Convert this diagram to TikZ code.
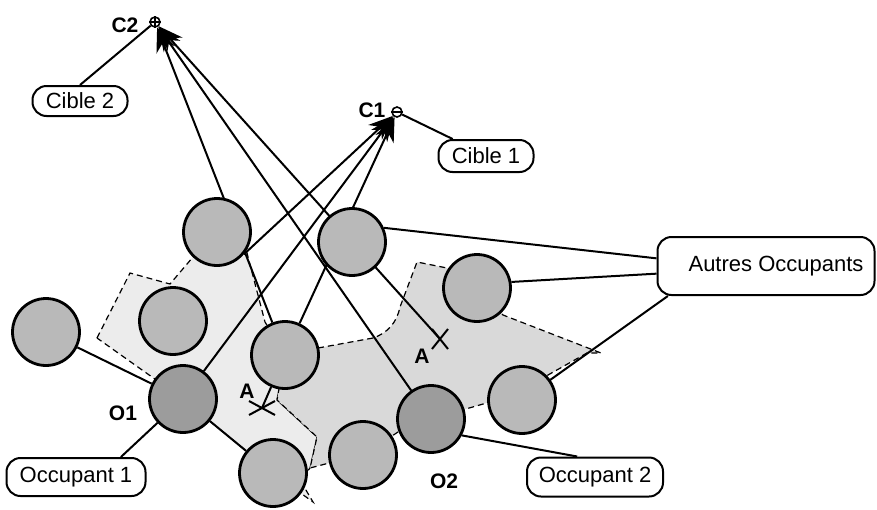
\documentclass[tikz,border=0pt]{standalone}
\usepackage{fontspec}
\setmainfont{Liberation Sans}
\usetikzlibrary{arrows.meta, shapes.misc}
\pgfdeclarelayer{shade}
\pgfdeclarelayer{wires}
\pgfsetlayers{shade,wires,main}

\begin{document}
\begin{tikzpicture}[x=0.5pt, y=-0.5pt,
        occ/.style={circle, draw, line width=1.4pt, fill=gray!55, minimum size=33.5pt, inner sep=0pt},
        occdark/.style={occ, fill=gray!78},
        tgt/.style={circle, draw, line width=0.8pt, minimum size=5pt, inner sep=0pt},
        tag/.style={draw, fill=white, line width=1pt, rounded corners=7pt, inner sep=0pt, font=\fontsize{11}{13}\selectfont},
        lbl/.style={inner sep=0pt, font=\bfseries\fontsize{10.5}{12}\selectfont},
        xmark/.style={draw, cross out, line width=1pt, inner sep=0pt},
        ray/.style={line width=1pt, -{Stealth[length=12pt, width=10pt]}},
        wire/.style={line width=1pt},
        zone/.style={draw, line width=0.6pt, densely dashed}]
    \useasboundingbox (0,0) rectangle (877,509);

    \node[occ] (ca) at (217,232) {};
    \node[occ] (cb) at (352,242) {};
    \node[occ] (cc) at (173,321) {};
    \node[occ] (cd) at (46,332) {};
    \node[occ] (ce) at (285,355) {};
    \node[occ] (cf) at (477,288) {};
    \node[occ] (cg) at (522,400) {};
    \node[occ] (ch) at (363,455) {};
    \node[occ] (ci) at (273,473) {};
    \node[occdark] (o1) at (183,399) {};
    \node[occdark] (o2) at (431,419) {};

    \node[tgt] (c2) at (155,22) {};
    \draw[line width=0.6pt] (c2.west) -- (c2.east) (c2.north) -- (c2.south);
    \node[tgt] (c1) at (397,112) {};
    \draw[line width=0.6pt] (c1.west) -- (c1.east);
    \node[lbl] (lc2) at (125,25) {C2};
    \node[lbl] (lc1) at (372,110) {C1};
    \node[lbl] (lo1) at (123,413) {O1};
    \node[lbl] (lo2) at (444,481) {O2};
    \node[lbl] (la1) at (247,391) {A};
    \node[lbl] (la2) at (422,356) {A};
    \node[xmark, minimum width=12pt, minimum height=6pt] (a1) at (262,408) {};
    \node[xmark, minimum width=7pt, minimum height=9pt] (a2) at (440,339) {};

    \node[tag, minimum width=47.5pt, minimum height=15pt] (cible2) at (80,101) {Cible 2};
    \node[tag, minimum width=47.5pt, minimum height=16pt] (cible1) at (486,156) {Cible 1};
    \node[tag, minimum width=108.5pt, minimum height=29pt] (autres) at (766,266) {\hspace*{10pt}Autres Occupants};
    \node[tag, minimum width=69.5pt, minimum height=19pt] (occ1) at (76,477) {Occupant 1};
    \node[tag, minimum width=68pt, minimum height=19.5pt] (occ2) at (595,477) {Occupant 2};

    \begin{pgfonlayer}{shade}
        \filldraw[zone, fill=gray!15] (97,338) -- (130,273) -- (170,284) -- (193,257) -- (217,232)
            -- (247,253) -- (265,322) -- (285,355) -- (277,400) -- (317,437) -- (310,468)
            -- (300,480) -- (313,502) -- (273,473) -- (183,399) -- cycle;
        \filldraw[zone, fill=gray!30] (318,348) -- (373,338) .. controls (388,333) and (397,322) .. (400,307)
            -- (417,262) -- (447,268) -- (477,288) -- (503,315) -- (601,353) -- (587,353) -- (548,375)
            -- (522,400) -- (490,402) -- (431,419) -- (398,432) -- (363,455) -- (333,462)
            -- (310,468) -- (317,437) -- (277,400) -- (285,355) -- cycle;
    \end{pgfonlayer}

    \begin{pgfonlayer}{wires}
        \draw[ray] (ce) -- (c2);
        \draw[ray] (o2) -- (c2);
        \draw[ray] (a2.center) -- (c2);
        \draw[ray] (ca.-40) -- (c1);
        \draw[ray] (o1) -- (c1);
        \draw[ray] (ce) -- (c1);
        \draw[wire] (cible2.north) -- (c2);
        \draw[wire] (cible1.153) -- (c1);
        \draw[wire] (cb.24) -- (autres.176);
        \draw[wire] (cf.10) -- (autres.184);
        \draw[wire] (autres.197) -- (cg);
        \draw[wire] (cd) -- (o1);
        \draw[wire] (o1) -- (ci);
        \draw[wire] (occ1.24) -- (o1);
        \draw[wire] (occ2.131) -- (o2.-28);
        \draw[wire] (a1.center) -- (ce);
    \end{pgfonlayer}
\end{tikzpicture}
\end{document}
